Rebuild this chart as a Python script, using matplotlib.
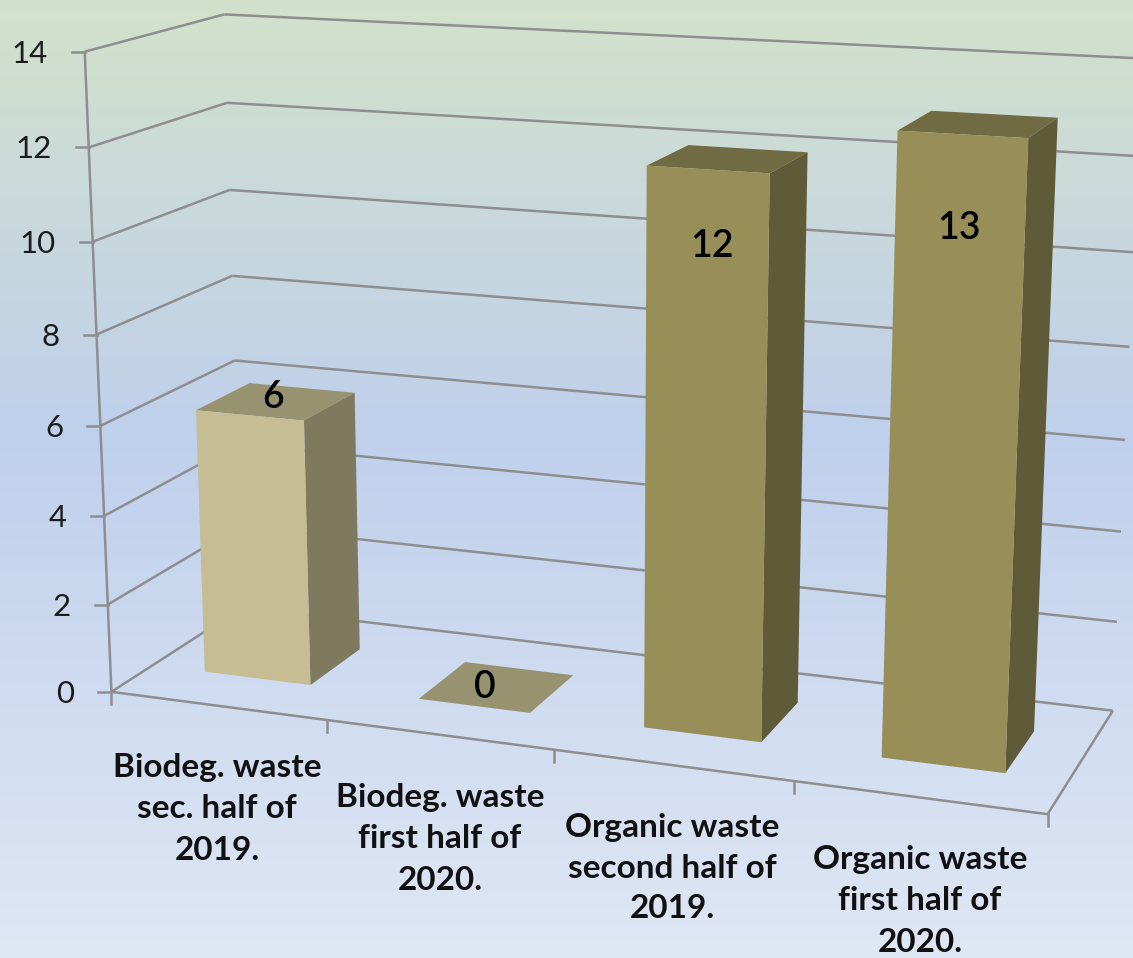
import matplotlib
matplotlib.use('Agg')
import matplotlib.pyplot as plt
import matplotlib.patches as mpatches
import numpy as np

plt.rcParams['font.family'] = ['Lato', 'DejaVu Sans']

W, H = 1133, 958

categories = [
    "Biodeg. waste\nsec. half of\n2019.",
    "Biodeg. waste\nfirst half of\n2020.",
    "Organic waste\nsecond half of\n2019.",
    "Organic waste\nfirst half of\n2020.",
]
values = [6, 0, 12, 13]
y_ticks = [0, 2, 4, 6, 8, 10, 12, 14]

# (facecolor front, side, top) per bar
bar_colors = [
    ("#c6bd94", "#7f7a5e", "#979270"),
    ("#978e58", "#5f5a37", "#979270"),
    ("#978e58", "#5f5a37", "#716b43"),
    ("#978e58", "#5f5a37", "#716b43"),
]

# Kamera: Boxkoordinaten (Kategorie, Wert, Tiefe) -> Pixel, per DLT gefittet
cam_box = [(0, 0, 0), (0, 14, 0), (1, 0, 0), (2, 0, 0), (3, 0, 0), (4, 0, 0), (4, 14, 0),
           (0, 0, 1), (0, 14, 1), (4, 0, 1), (4, 14, 1), (0, 6, 1), (4, 6, 1), (0, 6, 0),
           (0, 12, 0), (0, 2, 0), (0, 14, 0), (0, 0, 0)]
cam_px = [(113, 690), (83, 52), (327, 720), (555, 750), (795, 785), (1047, 815), (1075, 105),
          (238, 611), (228, 15), (1112, 708), (1143, 59), (235, 360), (1126, 438), (102, 424),
          (87, 147), (108, 605), (83, 52), (113, 690)]


def fit_camera(box, px):
    rows, rhs = [], []
    for (a, b, c), (x, y) in zip(box, px):
        rows.append([a, b, c, 1, 0, 0, 0, 0, -x * a, -x * b, -x * c])
        rhs.append(x)
        rows.append([0, 0, 0, 0, a, b, c, 1, -y * a, -y * b, -y * c])
        rhs.append(y)
    sol = np.linalg.lstsq(np.array(rows, float), np.array(rhs, float), rcond=None)[0]
    return np.append(sol, 1).reshape(3, 4)


CAM = fit_camera(cam_box, cam_px)


def proj(a, b, c):
    p = CAM @ np.array([a, b, c, 1.0])
    return p[0] / p[2], p[1] / p[2]


fig = plt.figure(figsize=(W / 100, H / 100), dpi=100)
ax = fig.add_axes([0, 0, 1, 1])
ax.set_xlim(0, W)
ax.set_ylim(H, 0)
ax.axis('off')

# Hintergrund-Verlauf
stops_y = [0, 430, 958]
stops_c = np.array([[211, 225, 203], [191, 208, 236], [224, 231, 245]]) / 255
yy = np.arange(H)
grad = np.stack([np.interp(yy, stops_y, stops_c[:, i]) for i in range(3)], axis=1)[:, None, :]
ax.imshow(grad, extent=(0, W, H, 0), aspect='auto', zorder=0)

GRID = "#8e8e90"
LW = 1.8


def line3(p, q, **kw):
    a, b = proj(*p), proj(*q)
    ax.plot([a[0], b[0]], [a[1], b[1]], color=GRID, lw=LW, zorder=1,
            solid_capstyle='butt', **kw)


nx = len(categories)
for t in y_ticks:
    line3((0, t, 0), (0, t, 1))
    line3((0, t, 1), (nx, t, 1))
    x0, y0 = proj(0, t, 0)
    ax.plot([x0 - 13, x0], [y0, y0], color=GRID, lw=LW, zorder=1)
    ax.text(x0 - 37, y0 + 2, str(t), ha='right', va='center', fontsize=22.5,
            color='#1c1c1c')

line3((0, 0, 0), (0, 14, 0))
line3((0, 0, 0), (nx, 0, 0))
line3((nx, 0, 0), (nx, 0, 1))
for i in range(nx + 1):
    x0, y0 = proj(i, 0, 0)
    ax.plot([x0, x0], [y0, y0 + 12], color=GRID, lw=LW, zorder=1)

# Balken
bar_half = 0.25
d0, d1 = 0.30, 0.71
for i, (v, cols) in enumerate(zip(values, bar_colors)):
    c = i + 0.5
    l, r = c - bar_half, c + bar_half
    front = [proj(l, 0, d0), proj(r, 0, d0), proj(r, v, d0), proj(l, v, d0)]
    side = [proj(r, 0, d0), proj(r, 0, d1), proj(r, v, d1), proj(r, v, d0)]
    top = [proj(l, v, d0), proj(r, v, d0), proj(r, v, d1), proj(l, v, d1)]
    ax.add_patch(mpatches.Polygon(top, facecolor=cols[2], edgecolor='none', zorder=3))
    if v > 0:
        ax.add_patch(mpatches.Polygon(side, facecolor=cols[1], edgecolor='none', zorder=3))
        ax.add_patch(mpatches.Polygon(front, facecolor=cols[0], edgecolor='none', zorder=4))

# Datenbeschriftung
label_pos = [(273, 397), (485, 687), (712, 246), (959, 228)]
for v, (x, y) in zip(values, label_pos):
    ax.text(x, y, str(v), ha='center', va='center', fontsize=27, color='black',
            fontweight='semibold', zorder=5)

# Kategorien
cat_pos = [(217, 809), (440, 839), (672, 868), (920, 901)]
for lab, (x, y) in zip(categories, cat_pos):
    ax.text(x, y, lab, ha='center', va='center', fontsize=24, fontweight='bold',
            color='#111111', linespacing=1.5, zorder=5)

fig.savefig('out.png', dpi=100)
plt.close(fig)
